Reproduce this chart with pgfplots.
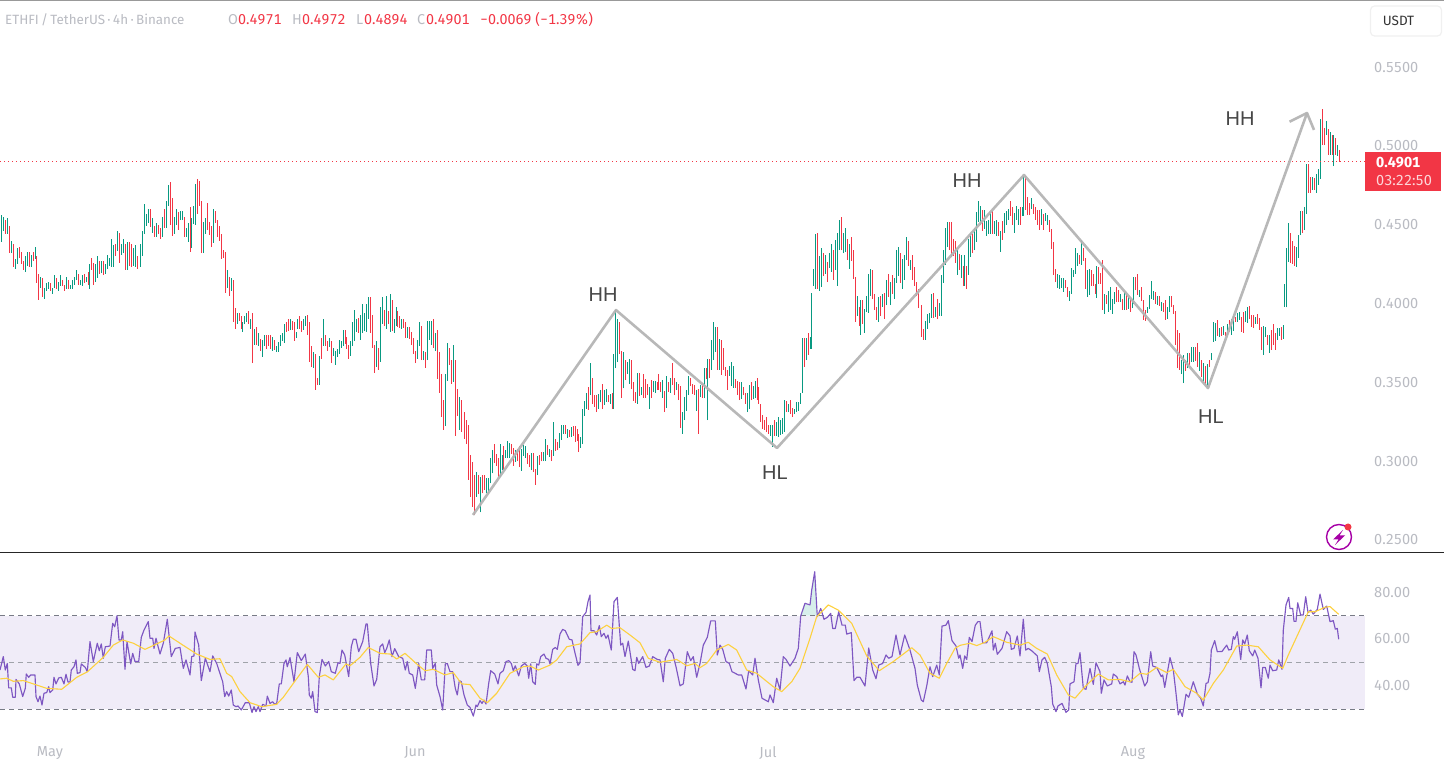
\documentclass[border=0pt]{standalone}
\usepackage{fontspec}
\usepackage{pgfplots}
\usepackage{pgfplotstable}
\pgfplotsset{compat=1.18}
\setmainfont[Numbers={Lining,Monospaced}]{Fira Sans}
\newfontfamily\lblfont{Liberation Sans}
\definecolor{upg}{HTML}{089981}
\definecolor{dnr}{HTML}{F23645}
\definecolor{axg}{HTML}{B9BBC2}
\definecolor{rsic}{HTML}{7E57C2}
\definecolor{rsima}{HTML}{FDD13F}
\definecolor{bandc}{HTML}{F0ECF8}
\definecolor{zigc}{HTML}{B4B4B4}
\definecolor{dashc}{HTML}{787B86}
\pgfplotstableread{
x l h c
1.3 0.4393 0.4562 0
3.3 0.4461 0.4552 0
5.3 0.4442 0.4531 1
7.3 0.4442 0.4546 0
9.3 0.4323 0.4493 1
11.3 0.4321 0.4398 0
13.3 0.4233 0.4378 1
15.3 0.4222 0.4283 0
17.3 0.4254 0.4353 0
19.3 0.4290 0.4359 1
21.3 0.4252 0.4326 1
23.3 0.4214 0.4271 1
25.3 0.4201 0.4302 0
27.3 0.4237 0.4328 0
29.3 0.4233 0.4328 1
31.3 0.4233 0.4309 0
33.3 0.4273 0.4328 1
35.3 0.4283 0.4359 0
36.7 0.4131 0.4302 1
38.3 0.4023 0.4188 1
40.3 0.4099 0.4169 0
42.3 0.4042 0.4163 1
44.3 0.4030 0.4099 0
46.3 0.4082 0.4131 0
48.3 0.4093 0.4137 0
50.3 0.4080 0.4131 1
52.3 0.4061 0.4099 0
54.3 0.4099 0.4182 0
56.3 0.4093 0.4163 1
58.3 0.4080 0.4137 0
60.3 0.4112 0.4182 0
62.3 0.4112 0.4150 1
64.3 0.4080 0.4118 1
66.3 0.4093 0.4169 0
68.3 0.4093 0.4150 1
70.3 0.4093 0.4118 0
72.3 0.4093 0.4150 0
74.3 0.4118 0.4169 0
76.3 0.4150 0.4214 0
78.3 0.4118 0.4188 1
80.3 0.4116 0.4150 0
82.3 0.4112 0.4182 0
84.3 0.4131 0.4188 1
86.3 0.4137 0.4169 0
88.3 0.4118 0.4201 1
89.3 0.4093 0.4252 0
91.3 0.4214 0.4290 1
93.3 0.4118 0.4258 1
95.3 0.4137 0.4252 0
97.3 0.4163 0.4302 0
99.3 0.4188 0.4271 1
101.3 0.4194 0.4271 0
103.3 0.4182 0.4271 1
105.3 0.4188 0.4252 0
107.3 0.4220 0.4309 0
109.3 0.4239 0.4290 0
111.3 0.4233 0.4410 0
113.3 0.4233 0.4372 0
115.3 0.4302 0.4378 1
117.3 0.4334 0.4461 0
119.3 0.4258 0.4448 1
121.3 0.4309 0.4378 0
123.3 0.4321 0.4410 0
125.3 0.4214 0.4378 1
127.3 0.4214 0.4391 0
129.3 0.4239 0.4391 1
131.3 0.4233 0.4378 1
133.3 0.4239 0.4353 0
135.3 0.4233 0.4372 0
137.3 0.4220 0.4302 1
140.3 0.4233 0.4378 0
142.3 0.4302 0.4461 0
144.3 0.4442 0.4632 0
146.3 0.4493 0.4569 0
148.3 0.4512 0.4601 0
150.3 0.4486 0.4601 1
152.3 0.4448 0.4543 0
154.3 0.4423 0.4493 1
156.3 0.4423 0.4512 0
158.3 0.4442 0.4499 1
160.3 0.4410 0.4480 1
162.3 0.4423 0.4550 0
164.3 0.4480 0.4601 1
166.3 0.4480 0.4651 0
168.3 0.4620 0.4753 0
170.3 0.4499 0.4772 1
172.3 0.4429 0.4670 1
174.3 0.4442 0.4550 0
176.3 0.4499 0.4601 0
178.3 0.4467 0.4582 1
180.3 0.4531 0.4588 0
182.3 0.4531 0.4588 0
184.3 0.4423 0.4550 1
186.3 0.4423 0.4480 0
188.3 0.4391 0.4512 0
190.3 0.4328 0.4613 1
191.3 0.4353 0.4543 0
193.3 0.4505 0.4620 0
195.3 0.4499 0.4759 0
197.3 0.4569 0.4791 1
199.3 0.4620 0.4780 1
201.3 0.4321 0.4651 1
203.3 0.4321 0.4518 0
205.3 0.4442 0.4543 0
207.3 0.4467 0.4639 1
209.3 0.4436 0.4518 1
211.3 0.4359 0.4493 1
213.3 0.4385 0.4601 0
215.3 0.4512 0.4588 1
217.3 0.4423 0.4531 1
219.3 0.4398 0.4493 1
221.3 0.4283 0.4442 1
223.3 0.4290 0.4340 1
225.3 0.4068 0.4328 1
227.3 0.4099 0.4214 0
229.3 0.4049 0.4169 1
231.3 0.4080 0.4163 0
233.3 0.3884 0.4150 1
235.3 0.3839 0.3972 1
237.3 0.3871 0.3941 0
239.3 0.3890 0.3941 1
241.3 0.3839 0.3922 1
242.3 0.3820 0.3884 0
244.3 0.3871 0.3922 0
246.3 0.3884 0.3941 0
248.3 0.3871 0.3953 1
250.3 0.3839 0.3903 0
252.3 0.3623 0.3941 1
254.3 0.3738 0.3839 0
256.3 0.3736 0.3852 1
258.3 0.3731 0.3814 0
260.3 0.3700 0.3776 1
262.3 0.3662 0.3769 0
264.3 0.3731 0.3801 0
266.3 0.3712 0.3801 1
268.3 0.3731 0.3801 1
270.3 0.3712 0.3801 1
272.3 0.3700 0.3788 0
274.3 0.3706 0.3769 1
276.3 0.3693 0.3731 0
278.3 0.3693 0.3757 0
280.3 0.3731 0.3801 0
282.3 0.3763 0.3814 0
284.3 0.3750 0.3871 0
286.3 0.3820 0.3884 1
288.3 0.3826 0.3903 1
290.3 0.3833 0.3903 0
292.3 0.3833 0.3890 1
294.3 0.3763 0.3884 1
296 0.3782 0.3820 0
297.3 0.3839 0.3903 0
299.3 0.3839 0.3922 1
301.3 0.3820 0.3890 1
303.3 0.3833 0.3903 0
305.3 0.3858 0.3922 0
307.3 0.3801 0.3928 1
309.3 0.3630 0.3884 1
311.3 0.3598 0.3731 1
313.3 0.3592 0.3693 0
315.3 0.3452 0.3681 1
317.3 0.3484 0.3528 1
319.3 0.3484 0.3668 0
321.3 0.3649 0.3782 1
323.3 0.3731 0.3903 0
325.3 0.3731 0.3801 1
327.3 0.3700 0.3763 1
329.3 0.3725 0.3782 0
331.3 0.3623 0.3763 1
333.3 0.3668 0.3719 0
335.3 0.3611 0.3700 0
337.3 0.3662 0.3712 0
339.3 0.3681 0.3769 0
341.3 0.3719 0.3763 0
343.3 0.3731 0.3833 0
345.3 0.3744 0.3833 1
346.3 0.3712 0.3788 1
348.3 0.3649 0.3738 1
350.3 0.3668 0.3763 0
352.3 0.3731 0.3884 0
354.3 0.3763 0.3960 0
356.3 0.3820 0.3903 0
358.3 0.3814 0.3909 1
360.3 0.3769 0.3928 0
362.3 0.3814 0.3998 0
364.3 0.3826 0.3941 0
366.3 0.3820 0.3998 0
368.3 0.3903 0.4042 0
370.3 0.3814 0.4042 1
372.3 0.3719 0.3928 1
374.3 0.3560 0.3738 1
376.3 0.3598 0.3763 0
378.3 0.3579 0.3719 1
380.3 0.3630 0.3979 0
382.3 0.3871 0.4042 0
384.3 0.3858 0.3960 1
386.3 0.3839 0.4049 0
388.3 0.3871 0.3953 1
390.3 0.3820 0.4061 0
392.3 0.3826 0.4023 1
394.3 0.3814 0.3903 0
396.3 0.3858 0.3979 0
397 0.3852 0.3953 1
399 0.3846 0.3922 1
401 0.3839 0.3903 0
403 0.3846 0.3903 1
405 0.3782 0.3884 1
407 0.3782 0.3852 0
409 0.3776 0.3852 1
411 0.3738 0.3820 1
413 0.3681 0.3782 1
415 0.3623 0.3700 1
417 0.3649 0.3769 0
419 0.3731 0.3884 0
421 0.3642 0.3858 1
423 0.3642 0.3700 0
425 0.3592 0.3693 1
427 0.3642 0.3890 0
429 0.3769 0.3890 0
431 0.3738 0.3890 0
433 0.3719 0.3903 1
435 0.3700 0.3814 0
437 0.3522 0.3833 1
439 0.3433 0.3693 1
441.3 0.3282 0.3553 1
443.3 0.3198 0.3388 1
445.3 0.3223 0.3553 0
447.3 0.3509 0.3750 0
449.3 0.3610 0.3718 1
451.3 0.3490 0.3642 1
453.3 0.3503 0.3737 0
455.3 0.3160 0.3642 1
457.3 0.3287 0.3458 1
459.3 0.3198 0.3407 0
461.3 0.3185 0.3388 1
464.3 0.3141 0.3312 1
466.3 0.3109 0.3261 1
468.3 0.2881 0.3230 1
470.3 0.2775 0.3039 1
472.3 0.2712 0.2995 1
474.3 0.2659 0.2912 1
476.3 0.2775 0.2931 0
478.3 0.2792 0.2912 1
480.3 0.2676 0.2900 0
482.3 0.2796 0.2912 1
484.3 0.2817 0.2912 1
486.3 0.2796 0.2893 0
488.3 0.2796 0.2893 0
490.3 0.2860 0.3020 0
492.3 0.2923 0.3071 0
494.3 0.2987 0.3109 1
496.3 0.2970 0.3046 1
498.3 0.2898 0.3020 1
500.3 0.2902 0.3109 0
502.3 0.2944 0.3039 0
503.3 0.2944 0.3096 1
505.3 0.3020 0.3071 0
507.3 0.3020 0.3128 0
509.3 0.3020 0.3113 0
511.3 0.3046 0.3109 1
513.3 0.2970 0.3084 1
515.3 0.2997 0.3071 0
517.3 0.3001 0.3077 1
519.3 0.2963 0.3096 1
521.3 0.2938 0.3077 0
523.3 0.3033 0.3103 0
525.3 0.3020 0.3096 0
527.3 0.2982 0.3052 1
529.3 0.2963 0.3039 1
531.3 0.2944 0.3052 0
533.3 0.2931 0.3052 1
535.3 0.2849 0.2950 1
537.3 0.2912 0.3033 0
539.3 0.2976 0.3039 1
541.3 0.2999 0.3058 1
543.3 0.3001 0.3058 0
545.3 0.3001 0.3141 0
547.3 0.3039 0.3103 1
549.3 0.3029 0.3077 0
551.3 0.3001 0.3071 1
553.3 0.3033 0.3249 0
555.3 0.3067 0.3141 1
557.3 0.3071 0.3122 1
559.3 0.3082 0.3179 0
561.3 0.3135 0.3230 0
563.3 0.3173 0.3230 0
565.3 0.3173 0.3230 1
567.3 0.3147 0.3204 0
569.3 0.3156 0.3198 1
571.3 0.3154 0.3217 0
573.3 0.3160 0.3223 1
575.3 0.3122 0.3223 1
577.3 0.3128 0.3204 1
578.3 0.3058 0.3173 1
580.3 0.3084 0.3154 0
582.3 0.3109 0.3331 0
584.3 0.3287 0.3382 0
586.3 0.3331 0.3433 0
588.3 0.3325 0.3471 1
590.3 0.3420 0.3623 0
592.3 0.3363 0.3528 1
594.3 0.3344 0.3420 1
596.3 0.3312 0.3420 1
598.3 0.3331 0.3426 0
600.3 0.3373 0.3452 0
602.3 0.3331 0.3490 1
604.3 0.3357 0.3452 0
606.3 0.3376 0.3458 0
608.3 0.3373 0.3420 1
610.3 0.3363 0.3426 0
612.3 0.3331 0.3431 1
613.7 0.3331 0.3680 0
615.3 0.3591 0.3959 0
617.3 0.3629 0.3902 0
619.3 0.3680 0.3883 1
621.3 0.3401 0.3699 1
623.3 0.3462 0.3693 0
625.3 0.3515 0.3642 1
627.3 0.3553 0.3629 0
629.3 0.3490 0.3648 0
631.3 0.3458 0.3642 1
633.3 0.3382 0.3503 1
635.3 0.3371 0.3437 1
637.3 0.3363 0.3560 0
639.3 0.3416 0.3560 1
641.3 0.3420 0.3471 0
643.3 0.3401 0.3553 1
645.3 0.3401 0.3522 1
647.3 0.3420 0.3490 1
649.3 0.3331 0.3471 0
651.3 0.3401 0.3515 1
653.3 0.3439 0.3509 0
655.3 0.3433 0.3509 0
657.3 0.3452 0.3503 1
658.7 0.3452 0.3553 1
660 0.3441 0.3503 1
662 0.3401 0.3515 0
664 0.3312 0.3445 1
666 0.3338 0.3541 0
668 0.3439 0.3503 1
670 0.3433 0.3528 0
672 0.3483 0.3623 1
674 0.3420 0.3528 1
676 0.3452 0.3503 0
678 0.3388 0.3490 1
680 0.3211 0.3477 1
682 0.3173 0.3312 0
684 0.3261 0.3407 0
686 0.3319 0.3452 0
688 0.3420 0.3541 0
690 0.3477 0.3528 1
692 0.3426 0.3490 1
694 0.3420 0.3483 1
696 0.3319 0.3452 0
698 0.3173 0.3456 1
700 0.3405 0.3483 0
702 0.3401 0.3490 1
704 0.3399 0.3591 0
706 0.3522 0.3591 1
707.3 0.3261 0.3648 0
709 0.3528 0.3648 1
711 0.3579 0.3769 0
713.3 0.3642 0.3883 0
715.3 0.3693 0.3851 0
717.3 0.3579 0.3851 1
719.3 0.3579 0.3775 0
721.3 0.3547 0.3769 1
723.3 0.3579 0.3718 1
725.3 0.3541 0.3598 1
727.3 0.3452 0.3579 1
729.3 0.3541 0.3604 0
731.3 0.3477 0.3629 0
733.3 0.3465 0.3604 0
735.3 0.3465 0.3522 1
737.3 0.3420 0.3509 1
739.3 0.3388 0.3503 1
741.3 0.3395 0.3503 0
743.3 0.3420 0.3471 1
745.3 0.3363 0.3433 1
747.3 0.3312 0.3433 0
749.3 0.3331 0.3483 0
751.3 0.3388 0.3503 1
753.3 0.3395 0.3477 0
755.3 0.3401 0.3509 0
757.3 0.3388 0.3528 1
758.3 0.3363 0.3471 1
760.3 0.3249 0.3363 1
762.3 0.3204 0.3293 1
764.3 0.3198 0.3261 1
766.3 0.3185 0.3280 1
768.3 0.3173 0.3230 1
770.3 0.3160 0.3230 0
772.3 0.3092 0.3230 0
774.3 0.3160 0.3261 1
776.3 0.3160 0.3249 0
778.3 0.3154 0.3280 0
780.3 0.3166 0.3261 0
782.3 0.3173 0.3274 0
784.3 0.3185 0.3388 0
786.3 0.3312 0.3382 1
788.3 0.3312 0.3363 0
790.3 0.3299 0.3388 1
792.3 0.3280 0.3338 1
794.3 0.3299 0.3331 0
796.3 0.3312 0.3376 0
798.3 0.3319 0.3376 0
800.3 0.3363 0.3433 0
802.3 0.3433 0.3782 0
804.3 0.3598 0.3782 1
806.3 0.3642 0.3782 0
808.3 0.3674 0.3813 1
810.3 0.3712 0.3788 0
811.7 0.3712 0.4067 0
813.3 0.4112 0.4220 0
815.3 0.4093 0.4442 0
817.3 0.4093 0.4448 1
819.3 0.4080 0.4302 0
821.3 0.4106 0.4353 0
823.3 0.4175 0.4321 1
825.3 0.4188 0.4309 0
827.3 0.4137 0.4264 1
829.3 0.4226 0.4321 0
831.3 0.4201 0.4378 0
833.3 0.4150 0.4340 1
835.3 0.4214 0.4404 0
837.3 0.4112 0.4448 0
839.3 0.4340 0.4531 0
841.3 0.4340 0.4550 1
843.3 0.4321 0.4448 0
845.3 0.4328 0.4480 0
847.3 0.4277 0.4410 1
849.3 0.4220 0.4378 0
851.3 0.4271 0.4423 1
853.3 0.4156 0.4340 1
855.3 0.3884 0.4169 1
857.3 0.3922 0.4049 0
859.3 0.3858 0.3979 1
860.3 0.3801 0.4023 0
862.3 0.3871 0.4023 1
864.3 0.3814 0.3966 0
866.3 0.3947 0.4049 0
868.3 0.3941 0.4188 0
870.3 0.4049 0.4220 0
872.3 0.4030 0.4214 1
874.3 0.3960 0.4061 1
876.3 0.3896 0.3979 1
878.3 0.3884 0.4042 0
880.3 0.3922 0.4049 1
882.3 0.3979 0.4061 0
884.3 0.3903 0.4068 1
886.3 0.3991 0.4150 0
888.3 0.4042 0.4188 1
890.3 0.3991 0.4137 0
892.3 0.4061 0.4182 1
894.3 0.4030 0.4163 0
896.3 0.4131 0.4340 0
898.3 0.4175 0.4359 0
900.3 0.4131 0.4321 1
902.3 0.4093 0.4283 0
904.3 0.4150 0.4309 0
906.3 0.4277 0.4423 0
908.3 0.4239 0.4398 1
910.3 0.4214 0.4277 0
912.3 0.4150 0.4309 1
914.3 0.4112 0.4233 1
916.3 0.4049 0.4137 1
918.3 0.3972 0.4093 1
921.3 0.3791 0.3991 1
923.3 0.3769 0.3839 1
925.3 0.3769 0.3890 0
927.3 0.3839 0.3934 0
929.3 0.3875 0.3939 0
931.3 0.3909 0.4061 0
933.3 0.3909 0.4068 1
935.3 0.3915 0.3979 0
937.3 0.3903 0.4030 1
939.3 0.3922 0.4004 0
941.3 0.3922 0.4182 0
943.3 0.4131 0.4340 0
945.3 0.4245 0.4480 0
947.3 0.4359 0.4518 0
949.3 0.4340 0.4518 1
951.3 0.4294 0.4518 1
953.3 0.4302 0.4410 1
955.3 0.4258 0.4398 1
957.3 0.4182 0.4340 0
959.3 0.4214 0.4315 1
961.3 0.4163 0.4309 0
963.3 0.4112 0.4239 1
964.3 0.4112 0.4309 0
966.3 0.4093 0.4239 1
968.3 0.4182 0.4410 0
970.3 0.4296 0.4442 0
972.3 0.4321 0.4442 1
974.3 0.4340 0.4480 0
976.3 0.4391 0.4582 0
978.3 0.4518 0.4651 0
980.3 0.4499 0.4620 0
982.3 0.4461 0.4594 1
984.3 0.4474 0.4594 0
986.3 0.4429 0.4524 0
988.3 0.4442 0.4531 0
990.3 0.4442 0.4582 0
992.3 0.4442 0.4588 1
994.3 0.4442 0.4524 0
996.3 0.4429 0.4531 0
998.3 0.4429 0.4518 1
1000.3 0.4328 0.4461 0
1002.3 0.4404 0.4524 1
1004.3 0.4448 0.4575 0
1006.3 0.4499 0.4588 0
1008.3 0.4531 0.4601 0
1010.3 0.4556 0.4651 1
1012.3 0.4499 0.4613 1
1014.3 0.4448 0.4575 0
1016.3 0.4531 0.4620 0
1018.3 0.4499 0.4601 0
1020.3 0.4499 0.4613 1
1022.3 0.4556 0.4613 0
1023.3 0.4556 0.4810 0
1025.3 0.4594 0.4810 1
1027.3 0.4562 0.4677 1
1029.3 0.4562 0.4639 1
1031.3 0.4601 0.4670 0
1033.3 0.4569 0.4632 1
1035.3 0.4531 0.4613 1
1037.3 0.4499 0.4594 1
1039.3 0.4467 0.4594 1
1041.3 0.4499 0.4601 0
1043.3 0.4467 0.4569 1
1045.3 0.4524 0.4575 0
1047.3 0.4499 0.4562 0
1049.3 0.4455 0.4531 1
1051.3 0.4347 0.4474 1
1053.3 0.4182 0.4391 1
1055.3 0.4137 0.4220 1
1057.3 0.4099 0.4188 0
1059.3 0.4093 0.4182 0
1061.3 0.4099 0.4163 0
1063.3 0.4074 0.4163 0
1065.3 0.4099 0.4150 1
1067.3 0.4042 0.4106 1
1069.3 0.4017 0.4080 0
1071.3 0.4061 0.4226 0
1073.3 0.4169 0.4214 0
1075.3 0.4188 0.4353 0
1077.3 0.4239 0.4321 0
1079.3 0.4252 0.4309 1
1081.3 0.4245 0.4404 0
1083.3 0.4271 0.4353 1
1085.3 0.4093 0.4290 1
1087.3 0.4042 0.4214 0
1089.3 0.4055 0.4220 0
1091.3 0.4112 0.4214 1
1093.3 0.4112 0.4188 1
1095.3 0.4061 0.4125 1
1096.3 0.4036 0.4239 0
1098.3 0.4125 0.4233 1
1100.3 0.4125 0.4194 1
1102.3 0.3960 0.4277 1
1104.3 0.3934 0.4061 0
1106.3 0.3998 0.4055 1
1108.3 0.3947 0.4080 0
1110.3 0.3960 0.4108 0
1112.3 0.3934 0.4027 0
1114.3 0.3998 0.4074 0
1116.3 0.4010 0.4108 1
1118.3 0.4010 0.4086 1
1120.3 0.4010 0.4061 0
1122.3 0.3960 0.4029 1
1124.3 0.3960 0.4074 0
1126.3 0.3960 0.4061 1
1128.3 0.3966 0.4042 0
1130.3 0.3947 0.4029 1
1132.3 0.3972 0.4029 0
1133.7 0.3998 0.4169 0
1135.7 0.4086 0.4169 1
1137.7 0.4055 0.4188 1
1139.7 0.4042 0.4086 0
1141.7 0.4017 0.4105 1
1143.7 0.3896 0.4023 1
1145.7 0.3890 0.3960 1
1147.7 0.3941 0.3979 0
1149.7 0.3966 0.4055 0
1151.7 0.4029 0.4141 0
1153.7 0.4023 0.4080 0
1155.7 0.3998 0.4074 1
1157.7 0.3991 0.4048 0
1159.7 0.3985 0.4048 1
1161.7 0.3953 0.4010 0
1163.7 0.3947 0.4004 1
1165.7 0.3896 0.4023 1
1167.7 0.3902 0.3979 0
1169.7 0.3947 0.4048 0
1171.7 0.3979 0.4048 1
1173.7 0.3934 0.3991 1
1175.7 0.3737 0.3951 1
1177.7 0.3589 0.3833 1
1179.7 0.3579 0.3812 1
1181.7 0.3553 0.3642 0
1183.7 0.3496 0.3674 0
1185.7 0.3573 0.3642 1
1187 0.3589 0.3687 0
1189 0.3611 0.3687 1
1191 0.3630 0.3723 0
1193 0.3630 0.3725 0
1195 0.3636 0.3725 1
1197 0.3598 0.3750 1
1199 0.3573 0.3693 0
1201 0.3534 0.3642 1
1203 0.3496 0.3623 0
1205 0.3484 0.3604 1
1207 0.3469 0.3617 0
1209 0.3598 0.3642 1
1211 0.3642 0.3687 0
1213 0.3757 0.3883 0
1215 0.3763 0.3877 0
1217 0.3795 0.3896 1
1219 0.3788 0.3845 0
1221 0.3795 0.3852 1
1223 0.3801 0.3858 0
1225 0.3795 0.3820 1
1227 0.3801 0.3871 0
1229 0.3820 0.3896 1
1231 0.3801 0.3902 0
1233 0.3826 0.3922 0
1235 0.3883 0.3915 1
1237 0.3883 0.3941 0
1239 0.3896 0.3947 0
1241 0.3820 0.3915 1
1243 0.3814 0.3947 1
1245 0.3883 0.3953 0
1247 0.3877 0.3979 0
1249 0.3902 0.3985 1
1251 0.3852 0.3928 1
1253 0.3845 0.3928 1
1255 0.3871 0.3915 0
1257 0.3871 0.3934 1
1259 0.3833 0.3909 1
1261 0.3706 0.3852 1
1263 0.3674 0.3858 0
1265 0.3788 0.3852 0
1267 0.3737 0.3801 1
1269 0.3687 0.3801 0
1271 0.3706 0.3833 1
1273 0.3737 0.3871 1
1275 0.3706 0.3814 1
1277 0.3769 0.3845 0
1279 0.3795 0.3845 0
1281 0.3769 0.3852 1
1283 0.3776 0.3864 0
1284.3 0.3979 0.4125 0
1286.3 0.3976 0.4353 0
1288.3 0.4264 0.4512 0
1290.3 0.4258 0.4448 1
1292.3 0.4251 0.4397 1
1294.3 0.4239 0.4366 1
1296.3 0.4234 0.4359 0
1298.3 0.4290 0.4435 0
1300.3 0.4435 0.4588 0
1302.3 0.4448 0.4588 1
1304.3 0.4467 0.4613 0
1306.3 0.4569 0.4886 0
1308.3 0.4702 0.4886 1
1310.3 0.4702 0.4803 1
1312.3 0.4721 0.4803 0
1314.3 0.4721 0.4797 1
1316.3 0.4702 0.4822 0
1318.3 0.4753 0.4854 0
1320.3 0.4791 0.5171 0
1322.3 0.5006 0.5235 1
1324.3 0.5006 0.5114 1
1326.3 0.5070 0.5159 0
1328.3 0.4943 0.5108 1
1330.3 0.4943 0.5089 0
1332.3 0.4943 0.5070 1
1333.3 0.4873 0.5070 0
1335.3 0.4943 0.5051 1
1337.3 0.4937 0.5006 0
1339.3 0.4899 0.4975 1
}\bars
\pgfplotstableread{
x v
0 46.8
3.3 52.5
5.3 46.8
7.3 49.6
8.7 39.2
11.3 39.2
12.7 35.2
15.3 35.2
16 42.8
19.3 40.9
22.7 35.5
25.3 39.0
26.3 45.1
28.7 43.7
30.7 44.7
35 44.7
36 35.5
38 33.3
40 35.7
42 31.9
44 36.9
46.7 37.2
48.7 39.7
50 37.2
52.7 38.3
54 43.7
56 40.9
58.7 43.4
61.3 43.7
64 40.9
66 45
68 41.7
70 41.7
71.3 46.8
74 48.2
76 51.1
77.3 45.4
80 45.7
81.3 49.4
85.3 47.9
87.3 46.1
90 58.9
93.3 50.4
97.3 58.2
99.3 55.0
101.3 57.9
103.3 51.8
105.3 56.7
110 57.0
112.7 66.7
114.7 65.2
117 69.9
119 59.6
121.3 59.6
122.7 63.1
125 47.1
127 58.9
130.7 49.4
132.7 53.9
135 50.4
138.7 50.4
141.3 60.7
144 63.8
148.3 67.4
150 60.3
152.7 60.3
154 56.0
156 60.3
160 53.6
163.3 58.2
167.3 68.4
171.3 52.5
175.3 56.0
180 56.4
183.3 47.5
186 51.1
190 44.7
191.7 52.5
194 52.8
195 63.0
198.7 57.4
201.3 42.3
205.3 51.8
210 46.1
212.7 52.8
216.7 49.6
222.7 41.8
224.7 35.5
226.7 37.6
228.7 35.7
231.3 38.3
233.3 31.9
236 31.2
238 31.5
241.3 29.8
245.3 32.9
249.3 32.9
252 28.7
254 31.2
256 29.1
258.3 31.2
260 29.1
262.7 32.2
266 31.5
267.3 35.7
270 32.6
272.7 33.3
274.7 32.2
276.7 32.6
279.3 40.9
281.3 40.9
284 49.6
286 51.1
287.3 48.2
290 52.1
294 41.8
297.3 54.2
301.3 50.8
305.3 53.6
308.3 44.0
309.3 36.2
311.3 34.8
312.7 37.6
315 29.1
317.3 28.7
319.3 44.0
322 51.3
325.3 48.5
328.7 50.4
331.3 46.1
335.3 45.4
338 49.9
340 49.6
342 55.3
344.7 53.2
348.7 44.0
351.3 56.7
353.3 59.9
356 59.9
358.7 54.6
362.7 58.9
366 66.4
367.3 66.4
370.7 49.6
374 40.0
376.7 42.8
380 56.7
382.7 57.9
384.7 54.2
386.7 56.0
389.3 59.6
392 52.5
394.7 55.9
398.7 52.5
402.7 51.8
405.3 46.8
407.3 50.4
409.3 45.4
412.7 44.7
415.3 39.0
418.7 49.6
421.3 42.6
424.7 42.6
426.7 55.3
431.3 55.3
432.7 47.5
435.3 49.6
436.7 40.4
440 35.5
442.7 29.8
445.3 49.4
447.3 49.6
450 46.1
452.7 46.1
455.3 39.0
457.3 36.2
459.3 42.3
461.3 41.8
464 36.2
467.3 31.9
470 30.9
473.3 27.2
476 31.9
477.3 31.2
480 33.8
482 32.6
484 34.0
486 32.3
488.7 41.1
490.7 46.5
494.7 45.1
498 40.9
500 45.4
503.3 46.5
506 50.4
508.7 50.8
511.3 49.6
513.3 46.5
515.3 48.6
518.7 44.3
521.3 48.5
524.7 49.6
527.3 48.5
528.7 43.3
530.7 49.4
532.7 41.8
535.3 40.7
536.7 49.4
538.7 48.9
540.7 52.5
544 53.6
546 51.8
548.7 51.3
550 49.4
552.7 55.6
555.3 56.4
557.3 55.6
560 62.1
562.7 64.1
565.3 63.5
569.3 59.9
572 59.6
574.7 54.6
578 48.8
580 49.9
582.7 69.5
586 71.3
588 75.9
590 78.7
591 63.5
594 63.5
596.7 61.7
599.3 65.7
601.3 61.0
604 62.4
606 60.3
608 61.7
611.3 55.3
614 75.9
617.3 77.7
620.7 57.4
622.7 58.2
625 52.5
628.3 59.1
632.7 47.1
635 46.5
636.7 52.2
638.7 49.6
642.7 52.5
646 47.9
649.3 48.5
652.7 52.5
657.3 51.3
660 51.1
663.3 41.8
665.3 51.8
669.3 55.6
672.7 53.9
676 48.2
680 40.1
683.3 40.9
687.3 54.6
690.7 50.8
693.3 52.5
696.7 43.7
700 49.6
703.3 57.4
707.3 60.7
710.7 67.7
715.3 67.7
717.3 53.2
720 57.4
722.7 55.6
726 50.4
729.3 49.6
732 46.1
738.3 44.7
741.7 44.7
746 38.7
748.7 46.5
752.7 44.7
755 51.8
758.3 42.6
762 34.8
768.3 33.3
770 36.2
773.3 32.9
776.7 43.3
780 38.3
783.3 52.5
786 51.3
790 48.5
795 51.8
798.3 56.0
800.7 69.8
805 75.2
810 74.5
811.7 80.8
814.7 88.6
817.3 69.5
820.7 73.0
824 68.4
827.3 69.2
830.7 70.9
832.7 64.5
835.3 64.5
838.7 71.6
842 65.9
845.3 65.9
846.7 62.1
851.3 62.7
854 42.3
856.7 43.7
860 43.7
865 40.0
868.7 56.2
872.7 46.8
876 43.1
878.7 48.9
882.7 49.6
886 53.2
888.7 51.8
892 52.5
896 61.7
900 53.2
904.7 61.7
910 55.3
915 47.5
917.3 40.4
921.3 34.0
923.3 33.3
926.7 40.0
930 48.2
932.7 44.0
936.7 48.9
939.3 44.7
942 65.5
946 65.9
948.3 67.8
952 59.3
956 57.0
958.7 51.8
960 53.2
962.7 47.5
964.7 52.8
966.7 51.3
969.3 60.7
972 58.9
975.3 65.9
978 67.4
980 67.4
982.7 58.4
986.7 58.4
992 63.5
993.3 55.3
995.3 58.2
997.3 53.5
1002 56.0
1006.7 63.1
1010 61.3
1011.3 55.6
1014 56.0
1017.3 61.3
1020 52.8
1023.3 68.4
1025.7 55.3
1028.3 56.0
1031.7 55.0
1037.3 52.8
1039.3 46.1
1042 51.1
1044.7 52.2
1047.3 49.6
1051.3 39.7
1052.7 32.3
1056 29.1
1058 31.5
1062 32.6
1066 28.8
1068.7 29.8
1070 40.9
1074 41.8
1076 49.6
1078 49.6
1080 54.2
1083.3 39.0
1086 38.6
1090 47.5
1093.3 40.7
1096 49.9
1100 46.1
1101.3 36.9
1104 42.6
1107.3 40.0
1111.7 40.9
1113.3 45.1
1116.7 44.0
1120 40.9
1123.3 41.8
1125 40.4
1127.3 44.3
1130 41.8
1132 41.6
1134 54.6
1136 53.2
1139.3 47.5
1144.7 40.0
1147.3 41.8
1150.7 54.6
1152.7 48.5
1156.7 47.9
1161.3 44.0
1162.7 44.7
1164.7 39.4
1170 52.1
1173.3 46.8
1176 36.9
1178.3 27.7
1180 29.8
1182.3 27.0
1186 36.5
1188.7 35.2
1193.3 41.8
1197.3 36.6
1200.7 34.8
1203.3 31.5
1206 41.1
1208 41.4
1210 45.4
1211.3 55.3
1214.7 59.3
1217.3 54.6
1222 54.7
1226.7 57.4
1228.7 55.3
1231.3 55.6
1233.3 61.0
1234.7 59.9
1237.3 63.1
1240.7 51.3
1242.7 59.6
1244.7 57.9
1247.3 61.7
1249.3 55.0
1252.7 52.8
1254.7 55.3
1258 51.8
1261 39.2
1262.7 47.9
1265.3 47.9
1268.3 43.3
1270 48.9
1272.7 46.5
1276.7 46.8
1278.7 51.1
1282 47.1
1283.3 63.8
1286 74.5
1288.7 77.7
1290 73.0
1292.7 73.0
1294 67.5
1296 67.5
1297.7 75.4
1300.7 70.2
1303.3 70.2
1305.7 78.0
1308 71.2
1310.7 72.3
1313.3 70.6
1317.3 72.6
1320 79.1
1323.3 72.6
1326.7 74.0
1330 67.4
1333.3 67.8
1335.3 64.2
1337.3 64.5
1338.7 59.9
}\rsitab
\pgfplotstableread{
x v
0 43.0
6.7 43.3
13.3 42.0
23.3 42.3
33.3 40.9
46.7 39.0
61.7 38.6
76.7 43.7
87.3 46.0
103.3 52.2
113.3 57.4
122.7 59.6
133.3 58.2
145 55.6
156.7 57.9
165 59.6
169 61.3
180 58.2
196.7 53.6
210 51.3
220 51.6
226.7 45.4
231.7 44.0
240 37.6
250 32.9
261.7 31.2
276.7 32.2
283.3 35.2
293.3 41.1
307.3 49.2
318.3 43.7
325 44.7
333.3 42.6
346 49.4
350 48.6
360 52.2
368.3 56.4
380 53.9
390 53.6
396.7 51.5
405 53.9
416.7 49.4
425 46.5
433.3 47.1
445 44.7
453.3 45.7
461.7 40.9
470 40.6
480 34.8
487.3 32.9
496.7 36.9
510 45.4
523.3 48.2
530 48.5
538.3 46.8
550 48.9
556.7 51.1
566.7 56.7
580 57.9
590 62.7
596.7 63.1
606.7 65.9
611.7 64.5
620 64.8
630 61.7
640 58.4
648.3 51.8
660 50.1
676.7 51.3
686.7 48.6
695 49.6
700 47.8
706.7 49.6
716.7 55.3
728.3 57.7
736.7 55.3
746.7 46.8
756.7 45.4
773.3 39.7
781.7 37.6
791.7 41.8
800 47.5
810 60.3
816.7 69.5
828.3 74.5
838.3 72.3
851.7 66.7
866.7 52.8
879.3 46.5
893.3 50.4
911.7 56.3
920 53.2
930 45.4
939.3 43.3
946.7 49.6
955 56.0
960 57.3
970 58.2
976.7 57.2
985 58.6
993.3 61.0
1006.7 58.6
1020 57.4
1028.3 58.6
1036.7 56.0
1047.3 53.6
1056.7 44.7
1068.3 36.2
1075 34.8
1085 39.7
1098.3 45.1
1108.3 42.6
1120 42.8
1130 41.8
1140 45.4
1146.7 45.0
1156.7 47.9
1166.7 45.7
1173.3 47.1
1185 39.7
1196.7 36.9
1203.3 34.0
1213.3 41.1
1223.3 46.8
1236.7 57.0
1246.7 57.4
1258.3 56.7
1270 51.1
1282.7 47.5
1288.3 53.2
1298.3 62.4
1308.3 71.6
1315 71.6
1325 73.5
1330 73.8
1338.7 70.5
}\matab
\pgfplotsset{
  pane/.style={
    scale only axis, width=1365pt, xmin=0, xmax=1365,
    axis x line=bottom, axis y line=right,
    axis line style={draw=none}, major tick length=0pt, minor tick num=0,
    tick style={draw=none}, scaled ticks=false,
    tick label style={font=\fontsize{14.5}{16}\selectfont, text=axg},
    y tick label style={anchor=west, xshift=9pt, inner sep=0pt,
      /pgf/number format/fixed, /pgf/number format/fixed zerofill, /pgf/number format/assume math mode=true},
  },
  candle/.style={color=#1, draw=none, no marks, forget plot,
    error bars/y dir=plus, error bars/y explicit, error bars/error mark=none,
    error bars/error bar style={draw=#1, solid, line width=1.1pt}},
}
\begin{document}
\begin{tikzpicture}
\path[use as bounding box] (0,0) rectangle (1444pt,763pt);
% price pane
\begin{axis}[pane, at={(0pt,210pt)}, anchor=south west, height=553pt,
  ymin=0.24175, ymax=0.59264,
  ytick={0.25,0.30,0.35,0.40,0.45,0.50,0.55},
  y tick label style={/pgf/number format/precision=4},
  xtick=\empty]
\addplot[candle=upg, restrict expr to domain={\thisrow{c}}{0:0}] table[x expr={floor(\thisrow{x})+0.5}, y=l, y error plus expr=\thisrow{h}-\thisrow{l}] {\bars};
\addplot[candle=dnr, restrict expr to domain={\thisrow{c}}{1:1}] table[x expr={floor(\thisrow{x})+0.5}, y=l, y error plus expr=\thisrow{h}-\thisrow{l}] {\bars};
\addplot[color=dnr, line width=0.9pt, dash pattern=on 1pt off 3pt] coordinates {(0,0.4901) (1365,0.4901)};
\addplot[color=zigc, line width=2.6pt, line join=round, opacity=0.95] coordinates {(473,0.2659) (616,0.3959) (777,0.3084) (1024,0.4816) (1208,0.3464) (1307,0.5209)};
\addplot[color=zigc, line width=2.6pt, line join=round, opacity=0.95] coordinates {(1289.5,0.5154) (1307,0.5209) (1314,0.5102)};
\end{axis}
% RSI pane
\begin{axis}[pane, at={(0pt,0pt)}, anchor=south west, height=210pt,
  ymin=7.23, ymax=96.6,
  ytick={40,60,80},
  y tick label style={/pgf/number format/precision=2},
  xtick={50,415,768,1133}, xticklabels={May,Jun,Jul,Aug},
  x tick label style={anchor=center, yshift=10pt}]
\addplot[fill=bandc, draw=none] coordinates {(0,30) (1365,30) (1365,70) (0,70)} -- cycle;
\addplot[fill=upg!16, draw=none] coordinates {(801,70) (805,75.2) (810,74.5) (811.7,80.8) (814.7,88.6) (817,70)} -- cycle;
\addplot[color=dashc, line width=0.9pt, dash pattern=on 5pt off 4pt] coordinates {(0,70) (1365,70)};
\addplot[color=dashc!70, line width=0.9pt, dash pattern=on 5pt off 4pt] coordinates {(0,50) (1365,50)};
\addplot[color=dashc, line width=0.9pt, dash pattern=on 5pt off 4pt] coordinates {(0,30) (1365,30)};
\addplot[color=rsic, line width=1.15pt, line join=round] table[x=x, y=v] {\rsitab};
\addplot[color=rsima, line width=1.1pt, line join=round] table[x=x, y=v] {\matab};
\end{axis}
% overlays, pixel coordinates from the top left
\begin{scope}[x=1pt, y=-1pt, yshift=763pt]
\draw[color=black!40, line width=1.5pt] (0,0.7) -- (1444,0.7);
\draw[color=black!85, line width=1pt] (0,553) -- (1444,553);
\fill[dnr] (1365,152) rectangle (1441,191);
\node[anchor=west, inner sep=0pt, text=white, font=\fontsize{14.5}{16}\selectfont\bfseries] at (1376,163) {0.4901};
\node[anchor=west, inner sep=0pt, text=white, opacity=0.8, font=\fontsize{14.5}{16}\selectfont] at (1376,181) {03:22:50};
\draw[color=black!6, line width=1.2pt, fill=white, rounded corners=4pt] (1370.5,6) rectangle (1441.5,36);
\node[text=black!80, font=\fontsize{13.5}{16}\selectfont] at (1398.5,20.5) {USDT};
\begingroup
\def\hd#1#2#3{\node[anchor=west, inner sep=0pt, text=#2, font=\fontsize{14.3}{16}\selectfont] at (#1,20) {#3};}
\node[anchor=west, inner sep=0pt, text=axg, font=\fontsize{13.4}{16}\selectfont] at (5,20) {\spaceskip=.17em ETHFI / TetherUS · 4h · Binance};
\hd{228}{axg}{O}\hd{238}{dnr}{0.4971}
\hd{292}{axg}{H}\hd{302}{dnr}{0.4972}
\hd{356}{axg}{L}\hd{364}{dnr}{0.4894}
\hd{417}{axg}{C}\hd{426}{dnr}{0.4901}
\hd{480}{dnr}{−0.0069 (−1.39\%)}
\endgroup
\foreach \px/\py/\tx in {603/295/HH, 775/473/HL, 967/181/HH, 1211/417/HL, 1240/119/HH}
  \node[text=black!72, font=\lblfont\fontsize{20}{22}\selectfont] at (\px,\py) {\tx};
\draw[color=violet!70!magenta, line width=1.4pt] (1339,537) circle (12.5);
\fill[color=violet!70!magenta] (1343,530) -- (1333,539.5) -- (1338.5,539.5) -- (1335,545) -- (1345,535.5) -- (1339.5,535.5) -- cycle;
\fill[dnr] (1348,527) circle (3.5);
\end{scope}
\end{tikzpicture}
\end{document}
